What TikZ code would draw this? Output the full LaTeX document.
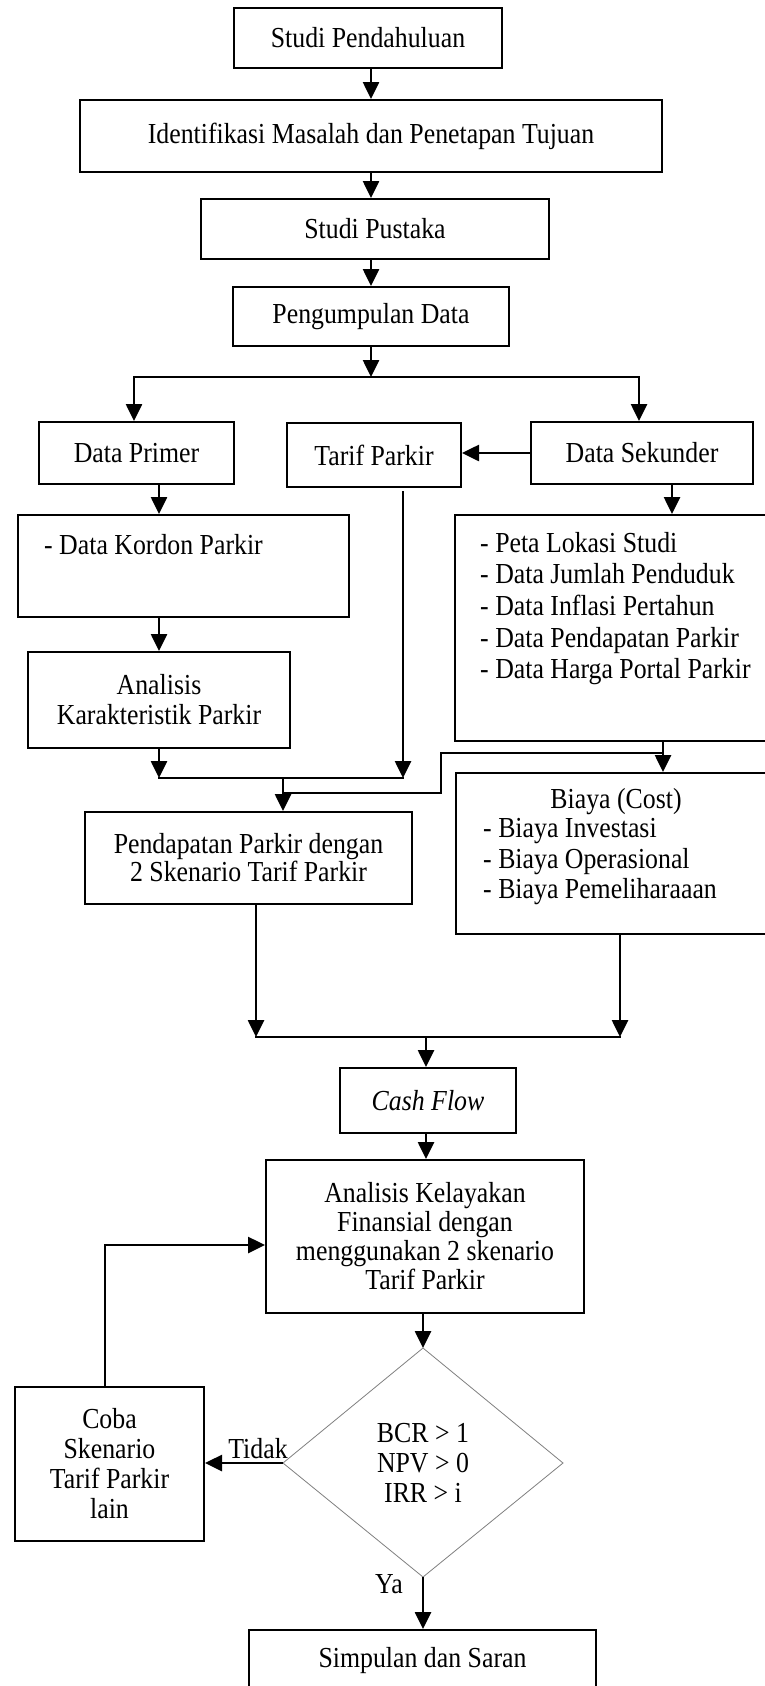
\documentclass[tikz,border=0pt]{standalone}
\usepackage{fontspec}
\setmainfont{Liberation Serif}[FakeStretch=0.89]
\usetikzlibrary{arrows.meta,calc}
\begin{document}
\begin{tikzpicture}[x=1pt,y=-1pt,
  every node/.style={font=\fontsize{29}{30}\selectfont},
  box/.style={draw, line width=2pt, inner sep=0pt, align=center},
  txt/.style={inner sep=0pt, align=left},
  arr/.style={line width=2.6pt, -{Triangle[length=17pt,width=16pt]}},
  ln/.style={line width=2.6pt, line cap=rect}]
\clip (0,0) rectangle (765,1686);
\fill[white] (0,0) rectangle (765,1686);

% boxes
\node[box, minimum width=268pt, minimum height=60pt] (sp) at (368,38) {Studi Pendahuluan};
\node[box, minimum width=582pt, minimum height=72pt] (im) at (371,136) {Identifikasi Masalah dan Penetapan Tujuan};
\node[box, minimum width=348pt, minimum height=60pt] (pus) at (375,229) {Studi Pustaka};
\node[box, minimum width=276pt, minimum height=59pt] (pd) at (371,316.5) {Pengumpulan Data};
\node[box, minimum width=195pt, minimum height=62pt] (dp) at (136.5,453) {Data Primer};
\node[box, minimum width=174pt, minimum height=64pt] (tp) at (374,455) {Tarif Parkir};
\node[box, minimum width=222pt, minimum height=62pt] (ds) at (642,453) {Data Sekunder};
\node[box, minimum width=331pt, minimum height=102pt] (kor) at (183.5,566) {};
\node[txt, anchor=west] (kortxt) at (44,545) {- Data Kordon Parkir};
\node[box, minimum width=262pt, minimum height=96pt] (ak) at (159,700) {Analisis\\Karakteristik Parkir};
\node[box, minimum width=320pt, minimum height=226pt] (dl) at (615,628) {};
\node[txt, anchor=west, font=\fontsize{29}{31.7}\selectfont] (dltxt) at (480,608.5) {- Peta Lokasi Studi\\- Data Jumlah Penduduk\\- Data Inflasi Pertahun\\- Data Pendapatan Parkir\\- Data Harga Portal Parkir};
\node[box, minimum width=319pt, minimum height=161pt] (bi) at (615.5,853.5) {};
\node[txt] (bititle) at (616,802) {Biaya (Cost)};
\node[txt, anchor=west, font=\fontsize{29}{30.5}\selectfont] (bitxt) at (483,862) {- Biaya Investasi\\- Biaya Operasional\\- Biaya Pemeliharaaan};
\node[box, minimum width=327pt, minimum height=92pt, font=\fontsize{29}{28}\selectfont] (pp) at (248.5,858) {Pendapatan Parkir dengan\\2 Skenario Tarif Parkir};
\node[box, minimum width=176pt, minimum height=65pt] (cf) at (428,1100.5) {\textit{Cash Flow}};
\node[box, minimum width=318pt, minimum height=153pt, font=\fontsize{29}{29}\selectfont] (ka) at (425,1236.5) {Analisis Kelayakan\\Finansial dengan\\menggunakan 2 skenario\\Tarif Parkir};
\node[box, minimum width=189pt, minimum height=154pt] (cb) at (109.5,1464) {Coba\\Skenario\\Tarif Parkir\\lain};
\node[box, minimum width=347pt, minimum height=62pt] (ss) at (422.5,1661) {Simpulan dan Saran};

% decision
\coordinate (diaT) at (423,1348);
\coordinate (diaR) at (563,1463);
\coordinate (diaB) at (423,1577);
\coordinate (diaL) at (283,1463);
\draw[gray, line width=0.8pt] (diaT) -- (diaR) -- (diaB) -- (diaL) -- cycle;
\node[inner sep=0pt, align=center] (dia) at (423,1463) {BCR > 1\\NPV > 0\\IRR > i};

% helper coordinates
\coordinate (split) at (371,377);
\coordinate (splitL) at (134,377);
\coordinate (splitR) at (639,377);
\coordinate (j1L) at (159,778);
\coordinate (j1R) at (403,778);
\coordinate (j1M) at (283,778);
\coordinate (bend0) at (663,753);
\coordinate (bend1) at (441,753);
\coordinate (bend2) at (441,793);
\coordinate (bend3) at (283,793);
\coordinate (j2L) at (256,1037);
\coordinate (j2R) at (620,1037);
\coordinate (j2M) at (426,1037);

% connectors
\draw[arr] (sp.south -| im.north) -- (im.north);
\draw[arr] (im.south) -- (im.south |- pus.north);
\draw[arr] (pus.south -| pd.north) -- (pd.north);
\draw[arr] (pd.south) -- (split);
\draw[ln] (splitL) -- (splitR);
\draw[arr] (splitL) -- (splitL |- dp.north);
\draw[arr] (splitR) -- (splitR |- ds.north);
\draw[arr] (ds.west) -- (ds.west -| tp.east);
\draw[arr] ([xshift=22.5pt]dp.south) -- ([xshift=22.5pt]dp.south |- kor.north);
\draw[arr] (ak.north |- kor.south) -- (ak.north);
\draw[arr] (ak.south) -- (j1L);
\draw[ln] (j1L) -- (j1R);
\draw[arr] ([xshift=29pt,yshift=-3pt]tp.south) -- (j1R);
\draw[arr] (j1M) -- (j1M |- pp.north);
\draw[arr] ([xshift=30pt]ds.south) -- ([xshift=30pt]ds.south |- dl.north);
\draw[arr] ([xshift=48pt]dl.south) -- ([xshift=48pt]dl.south |- bi.north);
\draw[ln] (bend0) -- (bend1) -- (bend2) -- (bend3);
\draw[arr] ([xshift=7.5pt]pp.south) -- (j2L);
\draw[arr] ([xshift=4.5pt]bi.south) -- (j2R);
\draw[ln] (j2L) -- (j2R);
\draw[arr] (j2M) -- (j2M |- cf.north);
\draw[arr] (cf.south -| j2M) -- (j2M |- ka.north);
\draw[arr] (ka.south -| diaT) -- (diaT);
\draw[arr] (diaL) -- (diaL -| cb.east);
\node[inner sep=0pt] (tidak) at (258,1449) {Tidak};
\draw[arr] ([xshift=-4.5pt]cb.north) |- ([yshift=-8.5pt]ka.west);
\draw[arr] (diaB) -- (diaB |- ss.north);
\node[inner sep=0pt] (ya) at (389,1584) {Ya};
\end{tikzpicture}
\end{document}
